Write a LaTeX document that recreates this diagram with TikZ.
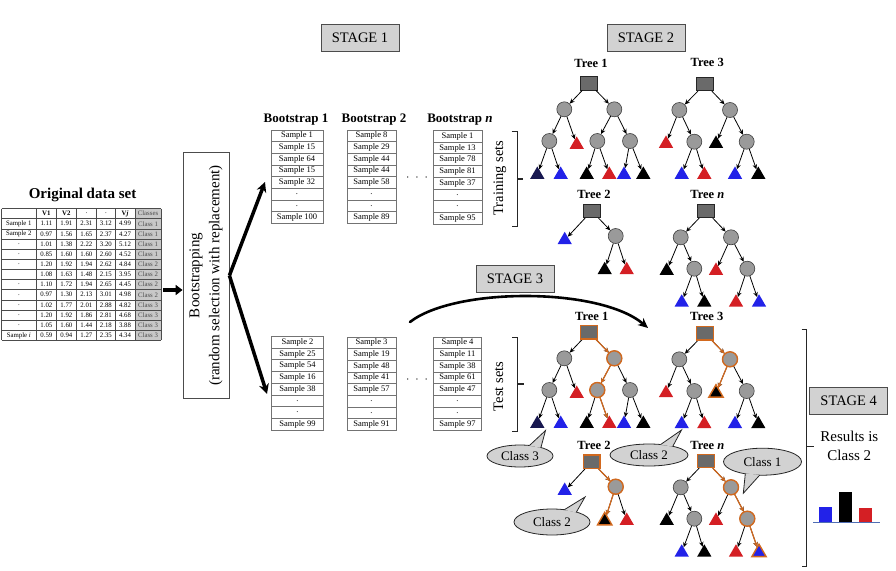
\documentclass[tikz,border=0pt]{standalone}
\usepackage{fontspec}
\setmainfont{Liberation Serif}
\usetikzlibrary{arrows.meta,shapes.geometric,calc}
\newcommand{\fsz}[1]{\fontsize{#1}{#1}\selectfont}
\definecolor{hl}{HTML}{D2691E}
\definecolor{tred}{HTML}{D41F24}
\definecolor{tblue}{HTML}{2222E8}
\definecolor{tnavy}{HTML}{181850}
\definecolor{cgray}{HTML}{9A9A9A}
\definecolor{rgray}{HTML}{6A6A6A}
\definecolor{sgray}{HTML}{D2D2D2}
\definecolor{tgray}{HTML}{C8C8C8}
\tikzset{
 stagebox/.style={draw=black!70, fill=sgray, line width=1pt, minimum width=78, minimum height=27, inner sep=0, font=\fsz{14.5}},
 rootsq/.style={draw=black!85, fill=rgray, minimum width=16.5, minimum height=13.5, inner sep=0, line width=0.6pt},
 circ/.style={circle, draw=black!75, fill=cgray, minimum size=15, inner sep=0, line width=0.6pt},
 tri/.style={regular polygon, regular polygon sides=3, minimum size=16.5, inner sep=0, draw=none},
 edge/.style={-{Stealth[length=5pt,width=4.5pt]}, line width=0.8pt, black},
 oedge/.style={-{Stealth[length=5pt,width=4.5pt]}, line width=1.2pt, hl},
 hlnode/.style={draw=hl, line width=1.4pt},
 treelab/.style={font=\bfseries\fsz{12.5}},
 cell/.style={draw=black!55, line width=0.9pt, fill=white, minimum height=11.7, inner sep=0, font=\fsz{8.5}},
 tc/.style={inner sep=0, font=\fsz{6.8}},
 btitle/.style={font=\bfseries\fsz{13}},
 sidelab/.style={rotate=90, font=\fsz{14.5}},
 bracket/.style={line width=1.4pt, black!85},
 bigarr/.style={line width=3.5pt, -{Triangle[length=7pt,width=10pt]}},
 bubble/.style={ellipse, draw=black!85, fill=sgray, line width=0.8pt, inner sep=0, font=\fsz{13}},
 bubline/.style={draw=black!85, line width=0.8pt}
}
\newcommand{\Tail}[4]{%
 \fill[sgray] ($(#1.center)!0.95!(#1.#2)$) -- (#4) -- ($(#1.center)!0.95!(#1.#3)$) -- cycle;
 \draw[bubline] ($(#1.center)!0.97!(#1.#2)$) -- (#4) -- ($(#1.center)!0.97!(#1.#3)$);
}
% Tree 1 shape
\newcommand{\TreeA}[3]{%
\begin{scope}[shift={(#2,#3)}]
\node[rootsq] (#1r) at (0,0) {};
\node[circ] (#1a) at (-24.7,26) {};
\node[circ] (#1b) at (25.3,26) {};
\node[circ] (#1c) at (-39.7,57.7) {};
\node[tri,fill=tred] (#1d) at (-12.3,61.4) {};
\node[circ] (#1e) at (8.3,57.7) {};
\node[circ] (#1f) at (41,57.7) {};
\node[tri,fill=tnavy] (#1g) at (-51.7,91.4) {};
\node[tri,fill=tblue] (#1h) at (-28.3,91.4) {};
\node[tri,fill=black] (#1i) at (-2.3,91.4) {};
\node[tri,fill=tred] (#1j) at (20.3,91.4) {};
\node[tri,fill=tblue] (#1k) at (35,91.4) {};
\node[tri,fill=black] (#1l) at (54.3,91.4) {};
\end{scope}
\foreach \p/\c in {r/a,r/b,a/c,a/d,b/e,b/f,c/g,c/h,e/i,e/j,f/k,f/l} \draw[edge] (#1\p) -- (#1\c);
}
% Tree 3 shape
\newcommand{\TreeB}[3]{%
\begin{scope}[shift={(#2,#3)}]
\node[rootsq] (#1r) at (0,0) {};
\node[circ] (#1a) at (-25.7,26) {};
\node[circ] (#1b) at (25,26) {};
\node[tri,fill=tred] (#1c) at (-39,59.7) {};
\node[circ] (#1d) at (-10.7,57.7) {};
\node[tri,fill=black] (#1e) at (11,59.7) {};
\node[circ] (#1f) at (41.7,57.7) {};
\node[tri,fill=tblue] (#1g) at (-23.3,90.7) {};
\node[tri,fill=tred] (#1h) at (-0.7,90.7) {};
\node[tri,fill=tblue] (#1i) at (30,90.7) {};
\node[tri,fill=black] (#1j) at (53.3,90.7) {};
\end{scope}
\foreach \p/\c in {r/a,r/b,a/c,a/d,b/e,b/f,d/g,d/h,f/i,f/j} \draw[edge] (#1\p) -- (#1\c);
}
% Tree n shape
\newcommand{\TreeC}[3]{%
\begin{scope}[shift={(#2,#3)}]
\node[rootsq] (#1r) at (0,0) {};
\node[circ] (#1a) at (-25.3,26.3) {};
\node[circ] (#1b) at (25,26.3) {};
\node[tri,fill=black] (#1c) at (-39.3,59.7) {};
\node[circ] (#1d) at (-11.7,57.7) {};
\node[tri,fill=tred] (#1e) at (10,59.7) {};
\node[circ] (#1f) at (41.3,57.7) {};
\node[tri,fill=tblue] (#1g) at (-24.3,91.5) {};
\node[tri,fill=black] (#1h) at (-1.7,91.5) {};
\node[tri,fill=tred] (#1i) at (30,91.5) {};
\node[tri,fill=tblue] (#1j) at (53,91.5) {};
\end{scope}
\foreach \p/\c in {r/a,r/b,a/c,a/d,b/e,b/f,d/g,d/h,f/i,f/j} \draw[edge] (#1\p) -- (#1\c);
}
% Tree 2 shape
\newcommand{\TreeD}[3]{%
\begin{scope}[shift={(#2,#3)}]
\node[rootsq] (#1r) at (0,0) {};
\node[tri,fill=tblue] (#1a) at (-27,29) {};
\node[circ] (#1b) at (24,25) {};
\node[tri,fill=black] (#1c) at (13,59) {};
\node[tri,fill=tred] (#1d) at (35,59) {};
\end{scope}
\foreach \p/\c in {r/a,r/b,b/c,b/d} \draw[edge] (#1\p) -- (#1\c);
}
\newcommand{\BTab}[5]{%
 \foreach \s [count=\k] in {#5} {
   \pgfmathsetmacro\cy{#3+(\k-0.5)*11.7}
   \node[cell, minimum width=#4] (#1\k) at (#2+#4/2,\cy) {\s};
 }}
\begin{document}
\begin{tikzpicture}[x=1pt,y=-1pt]
\useasboundingbox (0,0) rectangle (896,570);
\fill[white] (0,0) rectangle (896,570);

% ---------- Original data set ----------
\node[font=\bfseries\fsz{15}] (odtitle) at (82.5,195) {Original data set};
\fill[tgray] (135,208.5) rectangle (161,340.45);
\foreach \i in {0,...,13} \draw[black!70, line width=0.5pt] (1.7,208.5+\i*10.15) -- (161,208.5+\i*10.15);
\foreach \xx in {1.7,36,56.7,76,96.7,115,135,161} \draw[black!70, line width=0.5pt] (\xx,208.5) -- (\xx,340.45);
\node[tc, font=\bfseries\fsz{6.8}] (h1) at (46.35,213.6) {V1};
\node[tc, font=\bfseries\fsz{6.8}] (h2) at (66.35,213.6) {V2};
\node[tc] (h3) at (86.35,213.6) {.};
\node[tc] (h4) at (105.85,213.6) {.};
\node[tc, font=\bfseries\fsz{6.8}] (h5) at (125,213.6) {V\textit{j}};
\node[tc, text=black!70] (h6) at (148,213.6) {Classes};
\foreach \a/\b/\c/\d/\e/\f/\g [count=\i] in {
 Sample 1/1.11/1.91/2.31/3.12/4.99/Class 1,
 Sample 2/0.97/1.56/1.65/2.37/4.27/Class 1,
 ./1.01/1.38/2.22/3.20/5.12/Class 1,
 ./0.85/1.60/1.60/2.60/4.52/Class 1,
 ./1.20/1.92/1.94/2.62/4.84/Class 2,
 \mbox{}/1.08/1.63/1.48/2.15/3.95/Class 2,
 ./1.10/1.72/1.94/2.65/4.45/Class 2,
 ./0.97/1.30/2.13/3.01/4.98/Class 2,
 ./1.02/1.77/2.01/2.88/4.82/Class 3,
 ./1.20/1.92/1.86/2.81/4.68/Class 3,
 ./1.05/1.60/1.44/2.18/3.88/Class 3,
 Sample \textit{i}/0.59/0.94/1.27/2.35/4.34/Class 3} {
 \pgfmathsetmacro\yy{208.5+(\i+0.5)*10.15}
 \node[tc] (d\i a) at (18.85,\yy) {\a};
 \node[tc] (d\i b) at (46.35,\yy) {\b};
 \node[tc] (d\i c) at (66.35,\yy) {\c};
 \node[tc] (d\i d) at (86.35,\yy) {\d};
 \node[tc] (d\i e) at (105.85,\yy) {\e};
 \node[tc] (d\i f) at (125,\yy) {\f};
 \node[tc, text=black!70] (d\i g) at (148,\yy) {\g};
}
\coordinate (tabR) at (163,290);

% ---------- Bootstrapping box ----------
\node[draw=black!70, line width=0.8pt, minimum width=46, minimum height=246, inner sep=0] (bs) at (206,275.5) {};
\node[rotate=90, align=center, font=\fontsize{15}{20}\selectfont] (bst) at (bs.center) {Bootstrapping\\(random selection with replacement)};
\draw[bigarr] (tabR) -- (bs.west |- tabR);
\coordinate (upT) at (265,182);
\coordinate (dnT) at (267,394);
\draw[bigarr, -{Stealth[length=10pt,width=10pt]}] (bs.east) -- (upT);
\draw[bigarr, -{Stealth[length=10pt,width=10pt]}] (bs.east) -- (dnT);

% ---------- Stage labels ----------
\node[stagebox] (st1) at (360,38) {STAGE 1};
\node[stagebox] (st2) at (646,38) {STAGE 2};
\node[stagebox] (st3) at (515,279) {STAGE 3};
\node[stagebox] (st4) at (848.7,401) {STAGE 4};

% ---------- Bootstrap tables ----------
\node[btitle] (bt1) at (296,119.5) {Bootstrap 1};
\node[btitle] (bt2) at (374,119.5) {Bootstrap 2};
\node[btitle] (btn) at (460,119.5) {Bootstrap \textit{n}};
\BTab{ta}{271}{130}{52}{Sample 1,Sample 15,Sample 64,Sample 15,Sample 32,.,.,Sample 100}
\BTab{tb}{347}{130}{49}{Sample 8,Sample 29,Sample 44,Sample 44,Sample 58,.,.,Sample 89}
\BTab{tn}{433}{130.5}{49}{Sample 1,Sample 13,Sample 78,Sample 81,Sample 37,.,.,Sample 95}
\node[font=\bfseries\fsz{13}] (dots1) at (417,178) {$\cdot\ \cdot\ \cdot$};
\BTab{sa}{271.5}{336.5}{52}{Sample 2,Sample 25,Sample 54,Sample 16,Sample 38,.,.,Sample 99}
\BTab{sb}{347}{337}{49}{Sample 3,Sample 19,Sample 48,Sample 41,Sample 57,.,.,Sample 91}
\BTab{sn}{433.5}{337}{48}{Sample 4,Sample 11,Sample 38,Sample 61,Sample 47,.,.,Sample 97}
\node[font=\bfseries\fsz{13}] (dots2) at (417,380) {$\cdot\ \cdot\ \cdot$};

\node[sidelab] (trs) at (500,178) {Training sets};
\node[sidelab] (tes) at (498.5,386.5) {Test sets};
\draw[bracket] (511.7,131.7) -- (517.3,131.7) -- (517.3,226.7) -- (511.7,226.7);
\draw[bracket] (517.3,179) -- (523.3,179);
\draw[bracket] (512,337.3) -- (517.7,337.3) -- (517.7,431.7) -- (512,431.7);
\draw[bracket] (517.7,384) -- (524,384);

% ---------- Stage 3 arc ----------
\coordinate (arcS) at (410,322);
\coordinate (arcE) at (648,328);
\draw[line width=2.6pt, line cap=round, -{Stealth[length=10pt,width=9pt]}] (arcS) .. controls (455,287) and (600,287) .. (arcE);

% ---------- Training trees ----------
\node[treelab] (l1) at (591,63.3) {Tree 1};
\node[treelab] (l3) at (707.3,62.7) {Tree 3};
\node[treelab] (l2) at (594,194.3) {Tree 2};
\node[treelab] (ln) at (707.3,194.3) {Tree \textit{n}};
\TreeA{p1}{589}{83.3}
\TreeB{p3}{705}{84}
\TreeD{p2}{591.7}{211}
\TreeC{pn}{706}{211}

% ---------- Test trees ----------
\node[treelab] (m1) at (591.7,316.7) {Tree 1};
\node[treelab] (m3) at (706.7,316.7) {Tree 3};
\node[treelab] (m2) at (594,445) {Tree 2};
\node[treelab] (mn) at (707.3,445.7) {Tree \textit{n}};
\TreeA{u1}{589}{332.3}
\TreeB{u3}{705}{333.3}
\TreeD{u2}{591.7}{461.7}
\TreeC{un}{706}{461}
% highlighted paths
\draw[oedge] (u1r) -- (u1b); \draw[oedge] (u1b) -- (u1e); \draw[oedge] (u1e) -- (u1j);
\node[rootsq, hlnode] (u1rh) at (u1r.center) {};
\node[circ, hlnode] (u1bh) at (u1b.center) {};
\node[circ, hlnode] (u1eh) at (u1e.center) {};
\draw[oedge] (u3r) -- (u3b); \draw[oedge] (u3b) -- (u3e);
\node[rootsq, hlnode] (u3rh) at (u3r.center) {};
\node[circ, hlnode] (u3bh) at (u3b.center) {};
\node[tri, fill=black, hlnode] (u3eh) at (u3e.center) {};
\draw[oedge] (u2r) -- (u2b); \draw[oedge] (u2b) -- (u2c);
\node[rootsq, hlnode] (u2rh) at (u2r.center) {};
\node[circ, hlnode] (u2bh) at (u2b.center) {};
\node[tri, fill=black, hlnode] (u2ch) at (u2c.center) {};
\draw[oedge] (unr) -- (unb); \draw[oedge] (unb) -- (unf); \draw[oedge] (unf) -- (unj);
\node[rootsq, hlnode] (unrh) at (unr.center) {};
\node[circ, hlnode] (unbh) at (unb.center) {};
\node[circ, hlnode] (unfh) at (unf.center) {};
\node[tri, fill=tblue, hlnode] (unjh) at (unj.center) {};

% ---------- Bubbles ----------
\node[bubble, minimum width=66, minimum height=22] (bb3) at (520,456) {Class 3};
\coordinate (tp3) at (545.5,430.5);
\Tail{bb3}{48}{22}{tp3}
\node[bubble, minimum width=78, minimum height=22] (bb2a) at (649,455) {Class 2};
\coordinate (tp2a) at (681.5,430);
\Tail{bb2a}{42}{20}{tp2a}
\node[bubble, minimum width=76, minimum height=26] (bb2b) at (552,522) {Class 2};
\coordinate (tp2b) at (585,497);
\Tail{bb2b}{45}{22}{tp2b}
\node[bubble, minimum width=78, minimum height=27] (bb1) at (762.5,461.7) {Class 1};
\coordinate (tp1) at (743.3,493.3);
\Tail{bb1}{215}{258}{tp1}

% ---------- Stage 4 ----------
\draw[bracket] (801.7,329.3) -- (806.7,329.3) -- (806.7,566.7) -- (801.7,566.7);
\draw[bracket] (806.7,446.7) -- (814,446.7);
\node[align=center, font=\fontsize{15}{18.3}\selectfont] (res) at (849.3,446) {Results is\\Class 2};
\fill[tblue] (819.3,507.3) rectangle (832,522.7);
\fill[black] (839.3,492.3) rectangle (851.7,522.7);
\fill[tred] (859.3,507.7) rectangle (872,522.7);
\draw[line width=1.3pt, color={rgb,255:red,80;green,110;blue,180}] (813.3,522.7) -- (880,522.7);
\end{tikzpicture}
\end{document}
